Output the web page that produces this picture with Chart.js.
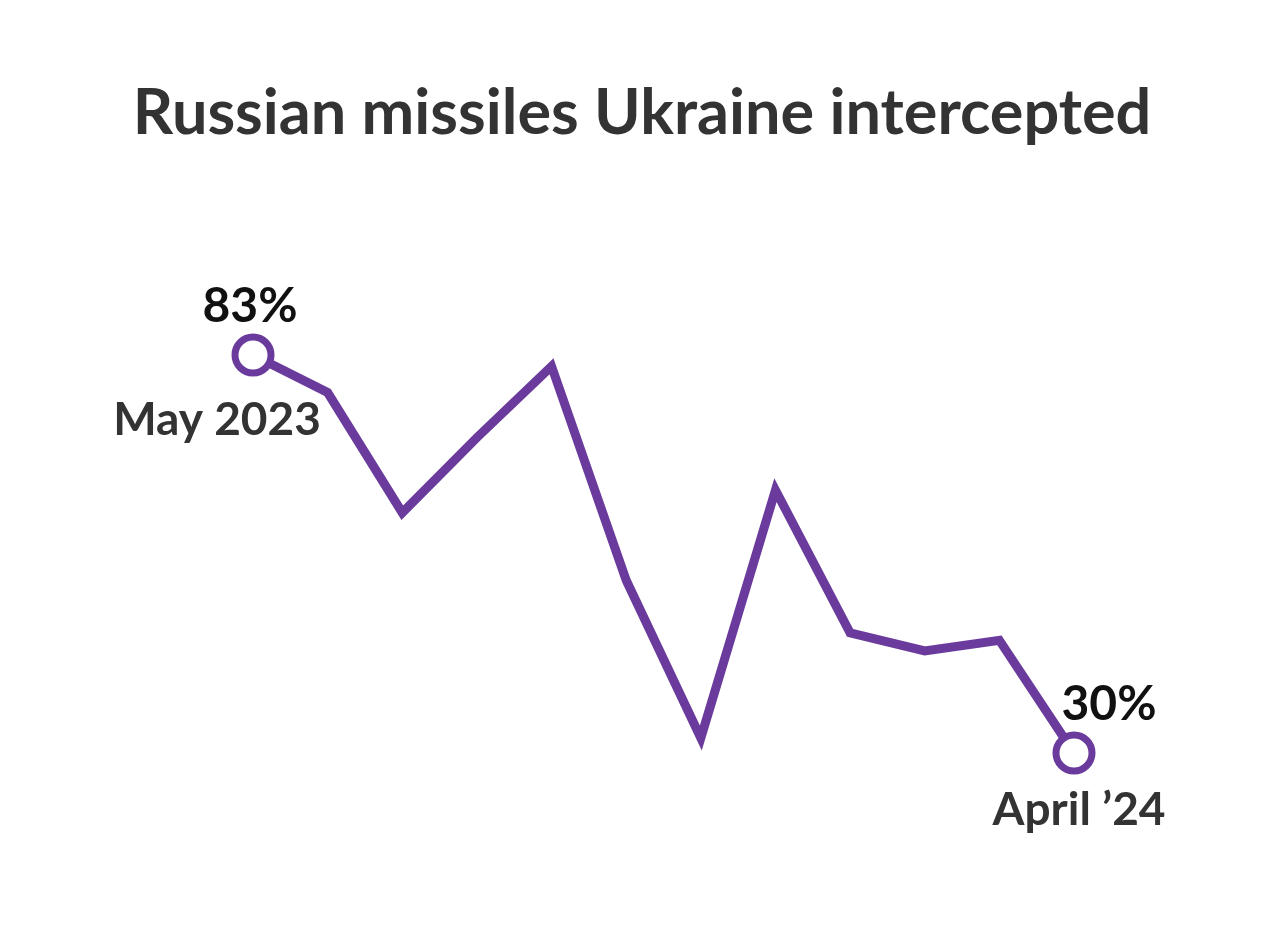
<!DOCTYPE html>
<html>
<head>
<meta charset="utf-8">
<script src="https://cdn.jsdelivr.net/npm/chart.js@4"></script>
<style>
  html, body { margin: 0; padding: 0; background: #fff; }
  #wrap { width: 1280px; height: 929px; }
</style>
</head>
<body>
<div id="wrap"><canvas id="chart"></canvas></div>
<script>
// Monthly share of Russian missiles intercepted, May 2023 - April 2024
const months = ['May 2023', 'Jun', 'Jul', 'Aug', 'Sep', 'Oct', 'Nov', 'Dec', 'Jan', 'Feb', 'Mar', 'April \u201924'];
const intercepted = [83, 78, 62, 72, 81.5, 53, 32, 65, 46, 43.6, 45, 30];

const purple = '#6a3b9c';
const endRadius = intercepted.map((v, i) => (i === 0 || i === intercepted.length - 1) ? 18 : 0);

// title and end-point labels
const labelPlugin = {
  id: 'endLabels',
  afterDraw(chart) {
    const ctx = chart.ctx;
    const x = chart.scales.x, y = chart.scales.y;
    const last = intercepted.length - 1;
    ctx.save();
    ctx.textAlign = 'center';
    ctx.textBaseline = 'alphabetic';

    ctx.fillStyle = '#333333';
    ctx.font = 'bold 63px Lato';
    ctx.fillText('Russian missiles Ukraine intercepted', 642, 134);

    const x0 = x.getPixelForValue(0), y0 = y.getPixelForValue(intercepted[0]);
    const x1 = x.getPixelForValue(last), y1 = y.getPixelForValue(intercepted[last]);

    ctx.fillStyle = '#111111';
    ctx.font = 'bold 48px Lato';
    ctx.fillText(intercepted[0] + '%', x0 - 3, y0 - 33);
    ctx.fillText(intercepted[last] + '%', x1 + 35, y1 - 33);

    ctx.fillStyle = '#333333';
    ctx.font = 'bold 46px Lato';
    ctx.fillText(months[0], x0 - 36, y0 + 80);
    ctx.fillText(months[last], x1 + 5, y1 + 72);
    ctx.restore();
  }
};

const ctx = document.getElementById('chart').getContext('2d');
new Chart(ctx, {
  type: 'line',
  data: {
    labels: months,
    datasets: [{
      data: intercepted,
      borderColor: purple,
      borderWidth: 9,
      borderJoinStyle: 'miter',
      tension: 0,
      pointRadius: endRadius,
      pointHoverRadius: endRadius,
      pointBackgroundColor: '#ffffff',
      pointBorderColor: purple,
      pointBorderWidth: 7,
      clip: false
    }]
  },
  plugins: [labelPlugin],
  options: {
    responsive: true,
    maintainAspectRatio: false,
    animation: false,
    layout: { padding: { left: 253, right: 206, top: 355, bottom: 176 } },
    plugins: { legend: { display: false }, tooltip: { enabled: false } },
    scales: {
      x: { type: 'category', display: false, offset: false },
      y: { display: false, min: 30, max: 83 }
    }
  }
});
</script>
</body>
</html>
